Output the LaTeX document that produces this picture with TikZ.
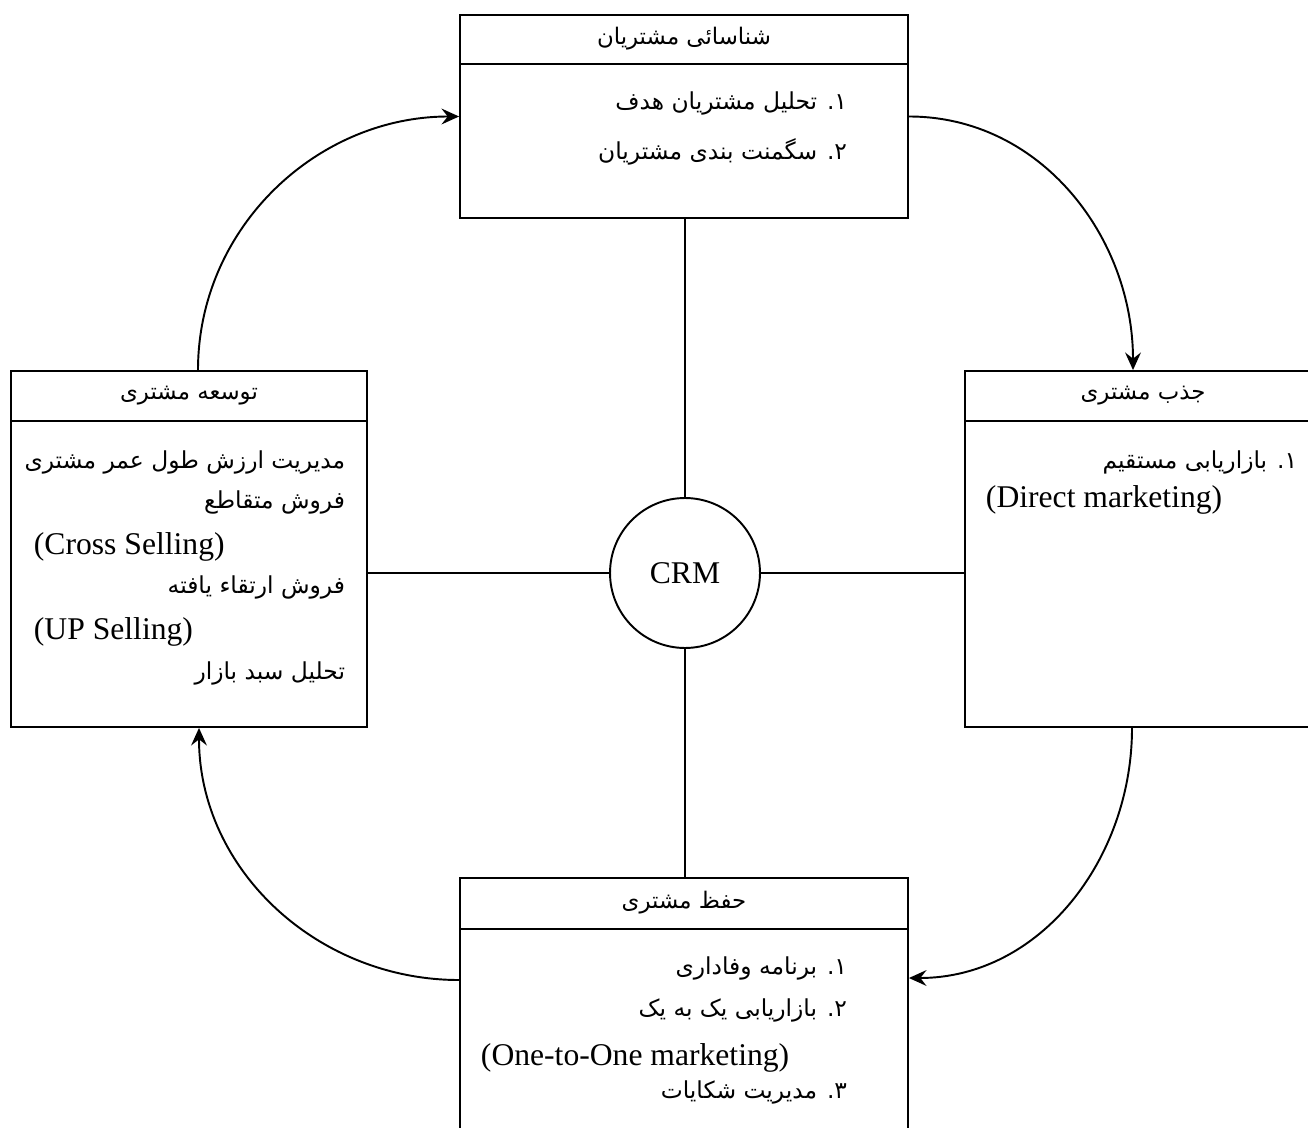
\documentclass[tikz,border=0pt]{standalone}
\usepackage{fontspec}
\usepackage{tikz}
\usetikzlibrary{arrows.meta, positioning}
\setmainfont{Liberation Serif}
\newfontfamily\farsifont[Script=Arabic]{DejaVu Sans}
\TeXXeTstate=1
\newcommand{\fatxt}[1]{{\farsifont\beginR #1\endR}}

\begin{document}
\begin{tikzpicture}[x=0.02cm,y=-0.02cm,line width=1.1pt,
    cycarrow/.style={-{Stealth[length=10pt,width=9pt,inset=3.5pt]}},
    fa/.style={inner sep=0,anchor=east,font=\fontsize{13.3}{16}\selectfont},
    en/.style={inner sep=0,anchor=west,font=\fontsize{18}{22}\selectfont}]
  \useasboundingbox (0,0) rectangle (1308,1128);
        \begin{scope}[every node/.style={draw,rectangle,inner sep=0}]
          \node[minimum width=8.96cm,minimum height=4.06cm] (ident) at (684,116.5) {};
          \node[minimum width=7.12cm,minimum height=7.12cm] (develop) at (189,549) {};
          \node[minimum width=7.12cm,minimum height=7.12cm] (attract) at (1143,549) {};
          \node[minimum width=8.96cm,minimum height=5.24cm] (retain) at (684,1009) {};
          \node[circle,minimum size=3cm,font=\fontsize{18}{22}\selectfont] (crm) at (685,573) {CRM};
        \end{scope}
        % header rows
        \draw ([yshift=-1cm]ident.north west) -- ([yshift=-1cm]ident.north east);
        \draw ([yshift=-1.02cm]develop.north west) -- ([yshift=-1.02cm]develop.north east);
        \draw ([yshift=-1.02cm]attract.north west) -- ([yshift=-1.02cm]attract.north east);
        \draw ([yshift=-1.04cm]retain.north west) -- ([yshift=-1.04cm]retain.north east);
        \begin{scope}[every node/.style={inner sep=0,font=\fontsize{13}{16}\selectfont}]
          \node (identtitle) at ([yshift=-0.5cm]ident.north) {\fatxt{شناسائی مشتریان}};
          \node (developtitle) at ([yshift=-0.51cm]develop.north) {\fatxt{توسعه مشتری}};
          \node (attracttitle) at ([yshift=-0.51cm]attract.north) {\fatxt{جذب مشتری}};
          \node (retaintitle) at ([yshift=-0.52cm]retain.north) {\fatxt{حفظ مشتری}};
        \end{scope}
        % box contents
        \node[fa] (ident1) at (848,103) {\fatxt{۱. تحلیل مشتریان هدف}};
        \node[fa] (ident2) at (848,152) {\fatxt{۲. سگمنت بندی مشتریان}};

        \node[fa] (attract1) at (1298,462) {\fatxt{۱. بازاریابی مستقیم}};
        \node[en] (attract2) at (985,500) {(Direct marketing)};

        \node[fa] (develop1) at (346,462) {\fatxt{مدیریت ارزش طول عمر مشتری}};
        \node[fa] (develop2) at (346,502) {\fatxt{فروش متقاطع}};
        \node[en] (develop3) at (33,547) {(Cross Selling)};
        \node[fa] (develop4) at (346,587) {\fatxt{فروش ارتقاء یافته}};
        \node[en] (develop5) at (33,632) {(UP Selling)};
        \node[fa] (develop6) at (346,673) {\fatxt{تحلیل سبد بازار}};

        \node[fa] (retain1) at (848,968) {\fatxt{۱. برنامه وفاداری}};
        \node[fa] (retain2) at (848,1010) {\fatxt{۲. بازاریابی یک به یک}};
        \node[en] (retain3) at (480,1058) {(One-to-One marketing)};
        \node[fa] (retain4) at (848,1092) {\fatxt{۳. مدیریت شکایات}};
        % spokes
        \draw (crm.north) -- (crm.north |- ident.south);
        \draw (crm.west) -- (crm.west -| develop.east);
        \draw (crm.east) -- (crm.east -| attract.west);
        \draw (crm.south) -- (crm.south |- retain.north);
        % cycle
        \draw[cycarrow] ([xshift=0.18cm]develop.north) to[out=90,in=180] (ident.west);
        \draw[cycarrow] (ident.east) to[out=0,in=90] ([xshift=-0.2cm]attract.north);
        \draw[cycarrow] ([xshift=-0.22cm]attract.south) to[out=-90,in=0] ([yshift=0.62cm]retain.east);
        \draw[cycarrow] ([yshift=0.58cm]retain.west) to[out=180,in=-90] ([xshift=0.2cm]develop.south);
      \end{tikzpicture}
\end{document}
